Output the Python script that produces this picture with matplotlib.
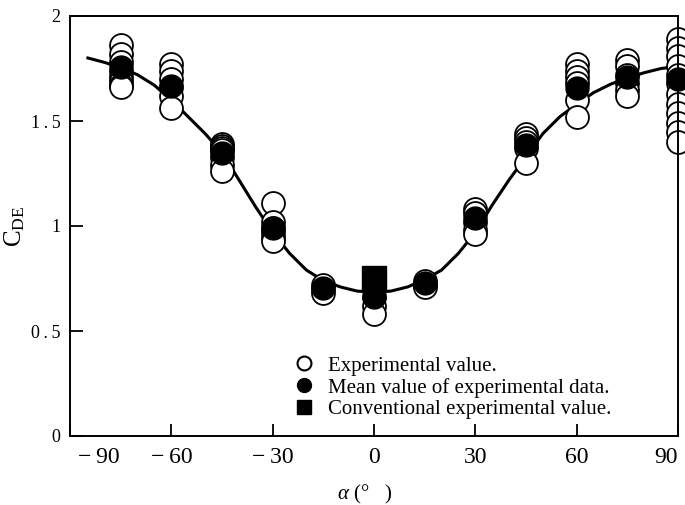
import matplotlib
matplotlib.use("Agg")
import matplotlib.pyplot as plt
import matplotlib.transforms as mtrans
from matplotlib.lines import Line2D

plt.rcParams['font.family'] = ['Liberation Serif', 'DejaVu Serif']
plt.rcParams['mathtext.fontset'] = 'custom'
plt.rcParams['mathtext.rm'] = 'Liberation Serif'
plt.rcParams['mathtext.it'] = 'Liberation Serif:italic'

# angulos medidos
angles = [-75, -60, -45, -30, -15, 0, 15, 30, 45, 60, 75, 90]

# valores experimentales (circulos abiertos) por angulo
experimental = [
    [1.86, 1.82, 1.78, 1.74, 1.71, 1.69, 1.67, 1.66],
    [1.77, 1.74, 1.70, 1.66, 1.62, 1.56],
    [1.39, 1.38, 1.37, 1.36, 1.33, 1.29, 1.26],
    [1.11, 1.02, 0.99, 0.97, 0.95, 0.93],
    [0.72, 0.70, 0.68],
    [0.70, 0.66, 0.62, 0.58],
    [0.74, 0.72, 0.71],
    [1.08, 1.06, 1.02, 0.98, 0.96],
    [1.44, 1.42, 1.40, 1.37, 1.30],
    [1.77, 1.74, 1.71, 1.68, 1.60, 1.52],
    [1.79, 1.76, 1.72, 1.68, 1.65, 1.62],
    [1.89, 1.85, 1.81, 1.76, 1.72, 1.68, 1.63, 1.58, 1.54, 1.49, 1.45, 1.40],
]

# valores medios (circulos llenos)
mean_vals = [1.755, 1.665, 1.35, 0.99, 0.705, 0.66, 0.73, 1.04, 1.385, 1.655, 1.71, 1.70]

# valor convencional (cuadrado)
conv_angle = [0]
conv_val = [0.752]

# curva
curve_a = [-84.7, -80, -75, -70, -65, -60, -55, -50, -45, -40, -35, -30, -25, -20,
           -15, -10, -5, 0, 5, 10, 15, 20, 25, 30, 35, 40, 45, 50, 55, 60, 65, 70,
           75, 80, 85, 90]
curve_c = [1.80, 1.78, 1.755, 1.72, 1.67, 1.60, 1.52, 1.44, 1.35, 1.22, 1.09, 0.97,
           0.87, 0.79, 0.74, 0.71, 0.69, 0.685, 0.69, 0.71, 0.745, 0.79, 0.87, 0.97,
           1.10, 1.22, 1.33, 1.44, 1.52, 1.58, 1.635, 1.675, 1.705, 1.73, 1.75, 1.76]

xticks = [-90, -60, -30, 0, 30, 60, 90]
xtick_labels = ['\u2212\u200990', '\u2212\u200960', '\u2212\u200930', '0', '30', '60', '90']
yticks = [0, 0.5, 1, 1.5, 2]
ytick_labels = ['0', '0\u2009.\u20095', '1', '1\u2009.\u20095', '2']

fig = plt.figure(figsize=(6.85, 5.05), dpi=100)
ax = fig.add_axes([70 / 685, 1 - 436 / 505, 608 / 685, 420 / 505])

# CURVA
ax.plot(curve_a, curve_c, color='black', lw=2.2, zorder=1, clip_on=False)

# PUNTOS EXPERIMENTALES
for a, vals in zip(angles, experimental):
    ax.plot([a] * len(vals), vals, 'o', ms=16.5, mfc='white', mec='black',
            mew=1.3, zorder=2, clip_on=False)

# MEDIAS
ax.plot(angles, mean_vals, 'o', ms=16.5, mfc='black', mec='black',
        zorder=3, clip_on=False)

# CONVENCIONAL
ax.plot(conv_angle, conv_val, 's', ms=17, mfc='black', mec='black', zorder=4)

ax.set_xlim(-90, 90)
ax.set_ylim(0, 2)
ax.set_xticks(xticks)
ax.set_xticklabels(xtick_labels, fontsize=17)
ax.set_yticks(yticks)
ax.set_yticklabels(ytick_labels, fontsize=13)
ax.tick_params(direction='in', length=9, width=1.3)
ax.tick_params(axis='x', pad=8)
ax.tick_params(axis='y', pad=7)
for s in ax.spines.values():
    s.set_linewidth(1.4)

lab0 = ax.get_xticklabels()[0]
lab0.set_horizontalalignment('left')
lab0.set_transform(lab0.get_transform() + mtrans.ScaledTranslation(8 / 100, 0, fig.dpi_scale_trans))
ax.get_xticklabels()[-1].set_horizontalalignment('right')

ax.set_ylabel(r'C$_{\rm DE}$', fontsize=18)
ax.yaxis.set_label_coords(-0.07, 0.5)
ax.set_xlabel(r'$\alpha$ (°   )', fontsize=15)
ax.xaxis.set_label_coords(0.485, -0.112)

handles = [
    Line2D([], [], ls='none', marker='o', ms=10, mfc='white', mec='black', mew=1.5),
    Line2D([], [], ls='none', marker='o', ms=10, mfc='black', mec='black'),
    Line2D([], [], ls='none', marker='s', ms=10, mfc='black', mec='black'),
]
labels = ['Experimental value.', 'Mean value of experimental data.',
          'Conventional experimental value.']
ax.legend(handles, labels, loc='upper left', bbox_to_anchor=(0.367, 0.19),
          frameon=False, fontsize=15, handlelength=1, handletextpad=0.68,
          labelspacing=0.1, borderpad=0, borderaxespad=0)

fig.savefig('out.png', dpi=100)
